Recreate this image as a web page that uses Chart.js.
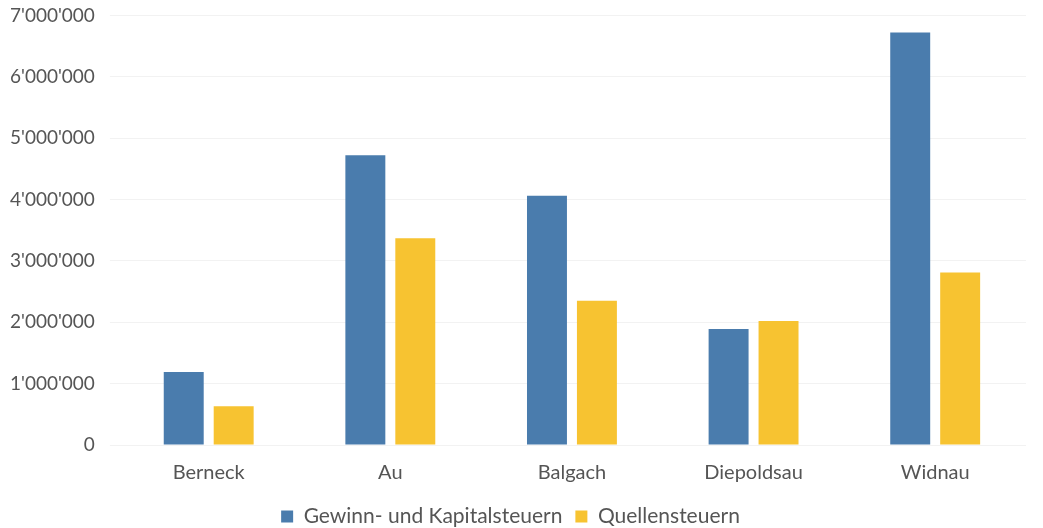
<!DOCTYPE html>
<html>
<head>
<meta charset="utf-8">
<script src="https://cdn.jsdelivr.net/npm/chart.js@4"></script>
<style>
  html, body { margin: 0; padding: 0; background: #fff; overflow: hidden; }
  #frame { position: relative; width: 1043px; height: 528px; overflow: hidden; }
  #wrap { position: absolute; left: -5px; top: -11px; width: 1048px; height: 548px; }
</style>
</head>
<body>
<div id="frame"><div id="wrap"><canvas id="steuernChart"></canvas></div></div>
<script>
// Gemeinden und Steuerertraege
var gemeinden = ['Berneck', 'Au', 'Balgach', 'Diepoldsau', 'Widnau'];
var gewinnKapital = [1190000, 4720000, 4060000, 1890000, 6720000];
var quellensteuern = [630000, 3370000, 2350000, 2020000, 2810000];

function formatCH(v) {
    return String(v).replace(/\B(?=(\d{3})+(?!\d))/g, "'");
}

var ctx = document.getElementById('steuernChart').getContext('2d');
new Chart(ctx, {
    type: 'bar',
    data: {
        labels: gemeinden,
        datasets: [{
            label: 'Gewinn- und Kapitalsteuern',
            data: gewinnKapital,
            backgroundColor: '#4a7cad',
            barPercentage: 0.8,
            categoryPercentage: 0.55
        }, {
            label: 'Quellensteuern',
            data: quellensteuern,
            backgroundColor: '#f7c331',
            barPercentage: 0.8,
            categoryPercentage: 0.55
        }]
    },
    options: {
        responsive: true,
        maintainAspectRatio: false,
        animation: false,
        layout: { padding: { left: 0, right: 17, top: 0, bottom: 0 } },
        plugins: {
            legend: {
                position: 'bottom',
                labels: {
                    boxWidth: 12,
                    boxHeight: 12,
                    color: '#555',
                    padding: 13,
                    font: { family: 'Lato', size: 21 }
                }
            },
            tooltip: { enabled: false }
        },
        scales: {
            x: {
                grid: { display: false },
                border: { display: false },
                ticks: { color: '#555', font: { family: 'Lato', size: 20 }, padding: 8 }
            },
            y: {
                min: 0,
                max: 7000000,
                grid: { color: '#f2f2f2' },
                border: { display: false },
                ticks: {
                    stepSize: 1000000,
                    color: '#555',
                    padding: 15,
                    font: { family: 'Lato', size: 19 },
                    callback: function (v) { return formatCH(v); }
                }
            }
        }
    }
});
</script>
</body>
</html>
